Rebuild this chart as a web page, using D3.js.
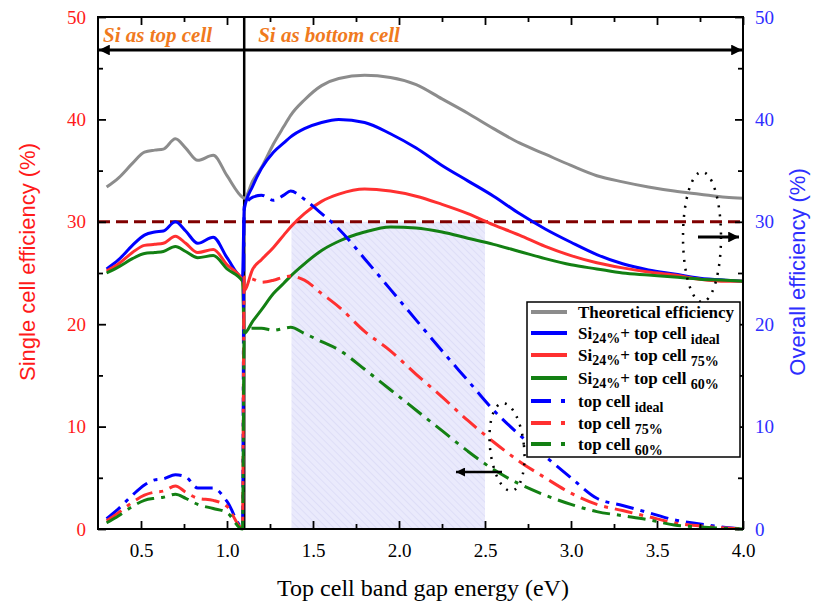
<!DOCTYPE html>
<html>
<head>
<meta charset="utf-8">
<script src="https://cdn.jsdelivr.net/npm/d3@7"></script>
<style>
  body { margin: 0; background: #fff; }
  svg { display: block; }
</style>
</head>
<body>
<div id="chart"></div>
<script>
// Band gap grids (eV): left = Si as top cell, right = Si as bottom cell
var gapLeft  = [0.30, 0.37, 0.45, 0.52, 0.58, 0.63, 0.70, 0.76, 0.83, 0.92, 1.00, 1.09];
var gapRight = [1.10, 1.15, 1.20, 1.27, 1.33, 1.37, 1.45, 1.55, 1.65, 1.80, 1.95, 2.10, 2.25,
                2.40, 2.55, 2.70, 2.85, 3.00, 3.15, 3.30, 3.45, 3.60, 3.75, 3.90, 4.00];

// Overall efficiency (%)
var theoLeft   = [33.4, 34.3, 35.7, 36.8, 37.0, 37.1, 38.1, 37.2, 36.0, 36.5, 34.5, 32.4];
var theoRight  = [32.3, 34.0, 35.3, 37.6, 39.3, 40.4, 41.9, 43.3, 44.0, 44.3, 44.1, 43.4, 42.0,
                  40.6, 39.1, 37.7, 36.6, 35.5, 34.5, 33.9, 33.4, 33.0, 32.7, 32.4, 32.3];
var idealLeft  = [25.4, 26.3, 27.7, 28.7, 29.0, 29.1, 30.0, 29.1, 27.9, 28.5, 26.5, 24.6];
var idealRight = [31.2, 33.5, 35.2, 36.8, 37.7, 38.3, 39.1, 39.7, 40.0, 39.7, 38.6, 37.2, 35.5,
                  34.0, 32.5, 30.8, 29.3, 28.0, 26.8, 25.9, 25.3, 24.9, 24.5, 24.3, 24.2];
var p75Left    = [25.2, 25.9, 27.0, 27.7, 27.8, 27.9, 28.6, 27.9, 27.0, 27.3, 25.8, 24.3];
var p75Right   = [23.3, 25.4, 26.3, 27.5, 28.7, 29.5, 30.8, 32.0, 32.7, 33.2, 33.0, 32.5, 31.7,
                  30.8, 29.7, 28.7, 27.6, 26.7, 26.0, 25.5, 25.1, 24.8, 24.4, 24.2, 24.2];
var p60Left    = [25.0, 25.6, 26.4, 26.9, 27.0, 27.1, 27.6, 27.1, 26.5, 26.7, 25.4, 24.2];
var p60Right   = [19.1, 20.3, 21.4, 23.0, 24.0, 24.7, 25.9, 27.2, 28.1, 29.0, 29.5, 29.4, 29.0,
                  28.4, 27.8, 27.1, 26.4, 25.8, 25.4, 25.0, 24.8, 24.6, 24.4, 24.3, 24.2];

// Single (top) cell efficiency (%)
var topIdealLeft  = [1.0, 2.0, 3.3, 4.3, 4.8, 4.9, 5.3, 5.1, 4.0, 4.0, 2.7, 0.2];
var topIdealRight = [31.5, 32.4, 32.6, 32.1, 32.6, 33.0, 32.2, 30.8, 29.3, 26.4, 23.4, 20.4, 17.4,
                     14.5, 11.6, 9.2, 7.1, 5.0, 3.0, 2.3, 1.6, 0.9, 0.5, 0.15, 0.0];
var top75Left     = [0.8, 1.6, 2.6, 3.3, 3.6, 3.7, 4.2, 3.6, 3.0, 2.8, 2.2, 0.1];
var top75Right    = [24.6, 24.4, 24.1, 24.3, 24.6, 24.7, 24.3, 23.0, 21.7, 19.3, 17.4, 15.1, 12.9,
                     10.6, 8.5, 6.6, 5.0, 3.5, 2.4, 1.8, 1.2, 0.6, 0.3, 0.1, 0.0];
var top60Left     = [0.6, 1.3, 2.2, 2.8, 3.0, 3.1, 3.4, 3.0, 2.4, 2.0, 1.6, 0.0];
var top60Right    = [19.4, 19.6, 19.6, 19.4, 19.6, 19.7, 19.1, 18.3, 17.5, 15.6, 13.6, 11.6, 9.6,
                     7.6, 5.8, 4.4, 3.3, 2.4, 1.7, 1.3, 0.9, 0.4, 0.2, 0.05, 0.0];

var siLimit = 1.1;          // Si band gap
var refLevel = 30;          // dashed reference line
var shadeRange = [1.375, 2.5];

var xTicks = [0.5, 1.0, 1.5, 2.0, 2.5, 3.0, 3.5, 4.0];
var yTicks = [0, 10, 20, 30, 40, 50];

var svgWidth = 813;
var svgHeight = 610;
var margin = { top: 17, right: 70, bottom: 81, left: 98 };
var width = svgWidth - margin.left - margin.right;
var height = svgHeight - margin.top - margin.bottom;

var serif = "'Liberation Serif', 'Times New Roman', serif";
var sans = "'Liberation Sans', Arial, sans-serif";

var svg = d3.select("#chart").append("svg")
  .attr("width", svgWidth)
  .attr("height", svgHeight);

var defs = svg.append("defs");
var hatch = defs.append("pattern")
  .attr("id", "hatch")
  .attr("patternUnits", "userSpaceOnUse")
  .attr("width", 5).attr("height", 5)
  .attr("patternTransform", "rotate(-45)");
hatch.append("rect").attr("width", 5).attr("height", 5).attr("fill", "#eaeafc");
hatch.append("line").attr("x1", 0).attr("y1", 0).attr("x2", 0).attr("y2", 5)
  .attr("stroke", "#d6d6f5").attr("stroke-width", 1.2);

defs.append("marker")
  .attr("id", "arrowEnd")
  .attr("viewBox", "0 0 10 10")
  .attr("refX", 10).attr("refY", 5)
  .attr("markerWidth", 5).attr("markerHeight", 3.6)
  .attr("markerUnits", "strokeWidth")
  .attr("orient", "auto-start-reverse")
  .append("path").attr("d", "M0,0 L10,5 L0,10 Z").attr("fill", "#000");

var g = svg.append("g").attr("transform", `translate(${margin.left}, ${margin.top})`);

var x = d3.scaleLinear().domain([0.25, 4.0]).range([0, width]);
var y = d3.scaleLinear().domain([0, 50]).range([height, 0]);

// shaded region
g.append("rect")
  .attr("x", x(shadeRange[0]))
  .attr("y", y(refLevel))
  .attr("width", x(shadeRange[1]) - x(shadeRange[0]))
  .attr("height", y(0) - y(refLevel))
  .attr("fill", "url(#hatch)");

// 30% reference
g.append("line")
  .attr("x1", 0).attr("x2", width)
  .attr("y1", y(refLevel)).attr("y2", y(refLevel))
  .attr("stroke", "#800000").attr("stroke-width", 3)
  .attr("stroke-dasharray", "12,6");

// Si band gap divider
g.append("line")
  .attr("x1", x(siLimit)).attr("x2", x(siLimit))
  .attr("y1", 0).attr("y2", height)
  .attr("stroke", "#000").attr("stroke-width", 2.5);

var line = d3.line()
  .x(d => x(d[0]))
  .y(d => y(d[1]))
  .curve(d3.curveMonotoneX);

function join(xl, yl, xr, yr) {
  return xl.map((v, i) => [v, yl[i]]).concat(xr.map((v, i) => [v, yr[i]]));
}

var dashDot = "18,7,4,7";
var series = [
  { data: join(gapLeft, theoLeft, gapRight, theoRight),         color: "#8c8c8c", dash: null },
  { data: join(gapLeft, idealLeft, gapRight, idealRight),       color: "#0000ff", dash: null },
  { data: join(gapLeft, p75Left, gapRight, p75Right),           color: "#ff3030", dash: null },
  { data: join(gapLeft, p60Left, gapRight, p60Right),           color: "#138013", dash: null },
  { data: join(gapLeft, topIdealLeft, gapRight, topIdealRight), color: "#0000ff", dash: dashDot },
  { data: join(gapLeft, top75Left, gapRight, top75Right),       color: "#ff3030", dash: dashDot },
  { data: join(gapLeft, top60Left, gapRight, top60Right),       color: "#138013", dash: dashDot }
];

g.selectAll(".curve")
  .data(series)
  .enter()
  .append("path")
  .attr("class", "curve")
  .attr("d", d => line(d.data))
  .attr("fill", "none")
  .attr("stroke", d => d.color)
  .attr("stroke-width", 3)
  .attr("stroke-dasharray", d => d.dash);

// Axes (ticks inward)
var minorY = d3.range(5, 50, 10);
var minorX = [0.75, 1.25, 1.75, 2.25, 2.75, 3.25, 3.75];

function styleAxis(sel, color) {
  sel.select(".domain").remove();
  sel.selectAll("line").attr("stroke", "#000").attr("stroke-width", 1.8);
  sel.selectAll("text")
    .attr("fill", color)
    .style("font-family", serif)
    .style("font-size", "19px");
}

g.append("g").call(d3.axisLeft(y).tickValues(yTicks).tickSize(-8).tickPadding(12).tickFormat(d3.format("d")))
  .call(styleAxis, "#ff1a1a");
g.append("g").call(d3.axisLeft(y).tickValues(minorY).tickSize(-5).tickFormat(""))
  .call(styleAxis, "#000");

g.append("g").attr("transform", `translate(${width},0)`)
  .call(d3.axisRight(y).tickValues(yTicks).tickSize(-8).tickPadding(12).tickFormat(d3.format("d")))
  .call(styleAxis, "#2e2eff");
g.append("g").attr("transform", `translate(${width},0)`)
  .call(d3.axisRight(y).tickValues(minorY).tickSize(-5).tickFormat(""))
  .call(styleAxis, "#000");

g.append("g").attr("transform", `translate(0,${height})`)
  .call(d3.axisBottom(x).tickValues(xTicks).tickSize(-8).tickPadding(15).tickFormat(d3.format(".1f")))
  .call(styleAxis, "#000");
g.append("g").attr("transform", `translate(0,${height})`)
  .call(d3.axisBottom(x).tickValues(minorX).tickSize(-5).tickFormat(""))
  .call(styleAxis, "#000");

g.append("g")
  .call(d3.axisTop(x).tickValues(xTicks).tickSize(-8).tickFormat(""))
  .call(styleAxis, "#000");
g.append("g")
  .call(d3.axisTop(x).tickValues(minorX).tickSize(-5).tickFormat(""))
  .call(styleAxis, "#000");

// frame
g.append("rect")
  .attr("width", width).attr("height", height)
  .attr("fill", "none").attr("stroke", "#000").attr("stroke-width", 2);

// regime arrows
var arrowY = 33;
g.append("line")
  .attr("x1", x(siLimit)).attr("x2", 1).attr("y1", arrowY).attr("y2", arrowY)
  .attr("stroke", "#000").attr("stroke-width", 3).attr("marker-end", "url(#arrowEnd)");
g.append("line")
  .attr("x1", x(siLimit)).attr("x2", width - 1).attr("y1", arrowY).attr("y2", arrowY)
  .attr("stroke", "#000").attr("stroke-width", 3).attr("marker-end", "url(#arrowEnd)");

g.append("text")
  .attr("x", 5).attr("y", 25)
  .attr("fill", "#f07a1e")
  .style("font-family", serif).style("font-size", "21px")
  .style("font-weight", "bold").style("font-style", "italic")
  .text("Si as top cell");
g.append("text")
  .attr("x", x(siLimit) + 14).attr("y", 25)
  .attr("fill", "#f07a1e")
  .style("font-family", serif).style("font-size", "21px")
  .style("font-weight", "bold").style("font-style", "italic")
  .text("Si as bottom cell");

// dotted ellipses with pointer arrows
svg.append("ellipse")
  .attr("cx", 702).attr("cy", 237).attr("rx", 19).attr("ry", 65)
  .attr("fill", "none").attr("stroke", "#000").attr("stroke-width", 2.5)
  .attr("stroke-dasharray", "2,7");
svg.append("line")
  .attr("x1", 698).attr("x2", 739).attr("y1", 237).attr("y2", 237)
  .attr("stroke", "#000").attr("stroke-width", 3).attr("marker-end", "url(#arrowEnd)");

svg.append("ellipse")
  .attr("cx", 507).attr("cy", 447).attr("rx", 17).attr("ry", 44)
  .attr("transform", "rotate(-6,507,447)")
  .attr("fill", "none").attr("stroke", "#000").attr("stroke-width", 2.5)
  .attr("stroke-dasharray", "2,7");
svg.append("line")
  .attr("x1", 502).attr("x2", 456).attr("y1", 472).attr("y2", 472)
  .attr("stroke", "#000").attr("stroke-width", 2.5).attr("marker-end", "url(#arrowEnd)");

// axis titles
svg.append("text")
  .attr("transform", "translate(35, 262) rotate(-90)")
  .attr("text-anchor", "middle")
  .attr("fill", "#ff1a1a")
  .style("font-family", sans).style("font-size", "22px")
  .text("Single cell efficiency (%)");
svg.append("text")
  .attr("transform", "translate(805, 272) rotate(-90)")
  .attr("text-anchor", "middle")
  .attr("fill", "#2e2eff")
  .style("font-family", sans).style("font-size", "22px")
  .text("Overall efficiency (%)");
svg.append("text")
  .attr("x", 423).attr("y", 596)
  .attr("text-anchor", "middle")
  .attr("fill", "#000")
  .style("font-family", serif).style("font-size", "24px")
  .text("Top cell band gap energy (eV)");

// legend
var legendRows = [
  { main: "Theoretical efficiency", si: false, sub: "" },
  { main: "+ top cell ", si: true, sub: "ideal" },
  { main: "+ top cell ", si: true, sub: "75%" },
  { main: "+ top cell ", si: true, sub: "60%" },
  { main: "top cell ", si: false, sub: "ideal" },
  { main: "top cell ", si: false, sub: "75%" },
  { main: "top cell ", si: false, sub: "60%" }
];
var legend = svg.append("g").attr("transform", "translate(527, 302)");
legend.append("rect")
  .attr("width", 213).attr("height", 155)
  .attr("fill", "#fff").attr("stroke", "#000").attr("stroke-width", 1.5);

var rowY = [10, 31, 53, 76, 99, 121, 142];
var rows = legend.selectAll(".lrow")
  .data(series)
  .enter()
  .append("g")
  .attr("class", "lrow")
  .attr("transform", (d, i) => `translate(0, ${rowY[i]})`);

rows.append("line")
  .attr("x1", 4).attr("x2", 40).attr("y1", 0).attr("y2", 0)
  .attr("stroke", d => d.color).attr("stroke-width", 4)
  .attr("stroke-dasharray", d => d.dash ? "20,10,4,10" : null);

var ltext = rows.append("text")
  .attr("x", 51).attr("y", 6)
  .attr("fill", "#000")
  .style("font-family", serif)
  .style("font-size", "17px").style("font-weight", "bold");

ltext.each(function(d, i) {
  var r = legendRows[i];
  var t = d3.select(this);
  if (r.si) {
    t.append("tspan").text("Si");
    t.append("tspan").attr("dy", 4).style("font-size", "14px").text("24%");
    t.append("tspan").attr("dy", -4).text(r.main);
  } else {
    t.append("tspan").text(r.main);
  }
  if (r.sub) {
    t.append("tspan").attr("dy", 5).style("font-size", "14px").text(r.sub);
  }
});
</script>
</body>
</html>
